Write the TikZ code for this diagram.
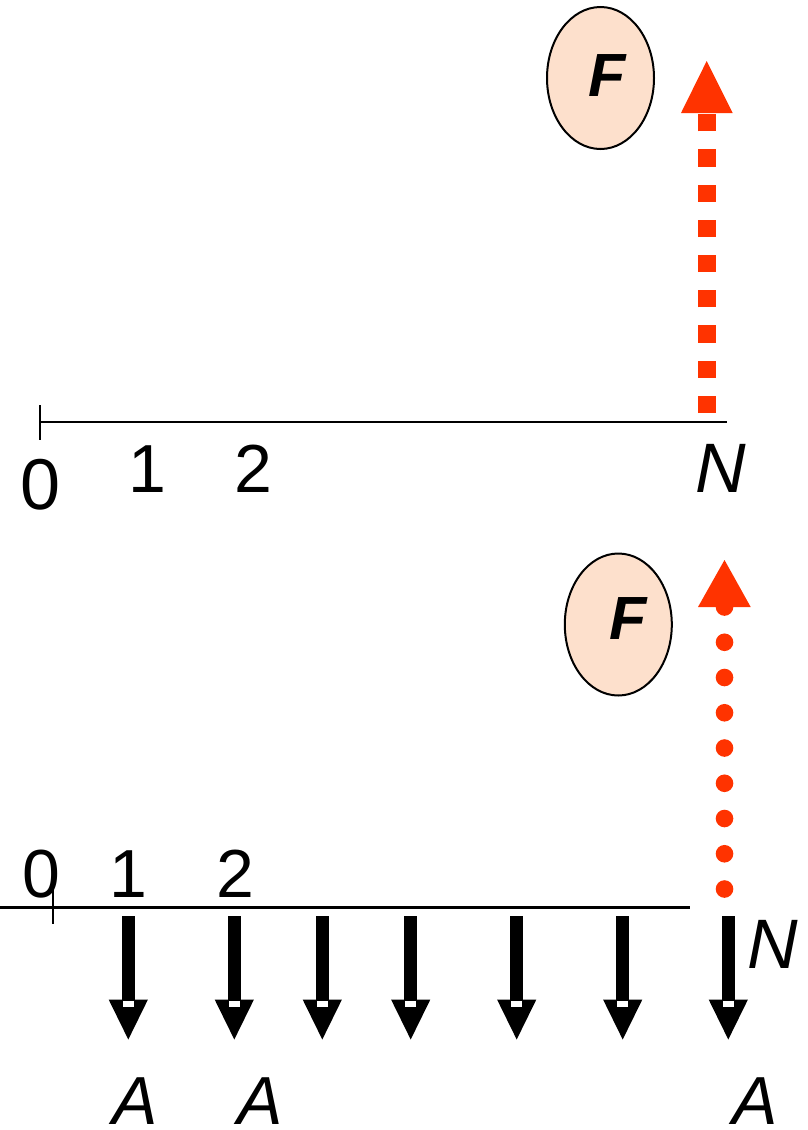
\documentclass[tikz,border=0pt]{standalone}
\usepackage{fontspec}
\setmainfont{Liberation Sans}
\usetikzlibrary{shapes.geometric}
\definecolor{fred}{RGB}{255,51,0}
\definecolor{peach}{RGB}{253,224,204}
\begin{document}
\begin{tikzpicture}[x=1pt,y=-1pt,
  lbl/.style={inner sep=0pt,anchor=base,font=\fontsize{68}{70}\selectfont},
  lblit/.style={inner sep=0pt,anchor=base,font=\fontsize{70}{72}\selectfont\itshape},
  fbox/.style={draw=black,line width=2pt,fill=peach,ellipse,inner sep=0pt,minimum width=107pt,minimum height=142pt},
  flbl/.style={inner sep=0pt,anchor=base,font=\fontsize{61}{63}\selectfont\bfseries\itshape},
  downarr/.pic={
    \fill[black] (-6.65,916) rectangle (6.65,1000);
    \fill[black] (-19.65,999.5) -- (19.65,999.5) -- (0,1039.5) -- cycle;
    \fill[white] (-5.6,1001) rectangle (5.6,1006.5);
  }]
\useasboundingbox (0,0) rectangle (807,1130);

% ---------- top diagram ----------
\coordinate (t0) at (40,422.3);
\coordinate (tN) at (727,422.3);
\draw[line width=2pt] (t0) -- (tN);
\draw[line width=1.5pt] (40,405) -- (40,440);
\node[lbl,font=\fontsize{72}{74}\selectfont] (tl0) at (41,509) {0};
\node[lbl] (tl1) at (147.5,492) {1};
\node[lbl] (tl2) at (253,492) {2};
\node[lblit] (tlN) at (721,492) {N};

\node[fbox] (tF) at (600.5,78) {};
\node[flbl] (tFl) at (607,96) {F};

\coordinate (tA0) at (706.7,413);
\coordinate (tA1) at (706.7,113);
\draw[fred,line width=18pt,dash pattern=on 17.3pt off 17.9pt] (tA0) -- (tA1);
\fill[fred] (681,113) -- (732.7,113) -- (706.7,61) -- cycle;

% ---------- bottom diagram ----------
\coordinate (b0) at (0,907);
\coordinate (bE) at (690,907);
\draw[line width=3pt] (b0) -- (bE);
\draw[line width=1.5pt] (53,885) -- (53,924);
\node[lbl] (bl0) at (41,897) {0};
\node[lbl] (bl1) at (128.5,897) {1};
\node[lbl] (bl2) at (235.6,897) {2};
\node[lblit] (blN) at (773,968) {N};

\node[fbox] (bF) at (618.3,624.5) {};
\node[flbl] (bFl) at (628.3,639.3) {F};

\coordinate (bA0) at (724.5,889);
\coordinate (bA1) at (724.5,606.5);
\draw[fred,line width=17.6pt,line cap=round,dash pattern=on 0pt off 35.25pt] (bA0) -- (bA1);
\fill[fred] (698,607) -- (750.7,607) -- (724.5,560) -- cycle;

\foreach \x in {128.3,234.3,322.3,410.7,516.7,622.7,728.3}
  \pic at (\x,0) {downarr};

\node[lblit,font=\fontsize{68}{70}\selectfont\itshape] (a1) at (135.5,1124.5) {A};
\node[lblit,font=\fontsize{68}{70}\selectfont\itshape] (a2) at (260.5,1124.5) {A};
\node[lblit,font=\fontsize{68}{70}\selectfont\itshape] (a3) at (755,1124.5) {A};
\end{tikzpicture}
\end{document}
